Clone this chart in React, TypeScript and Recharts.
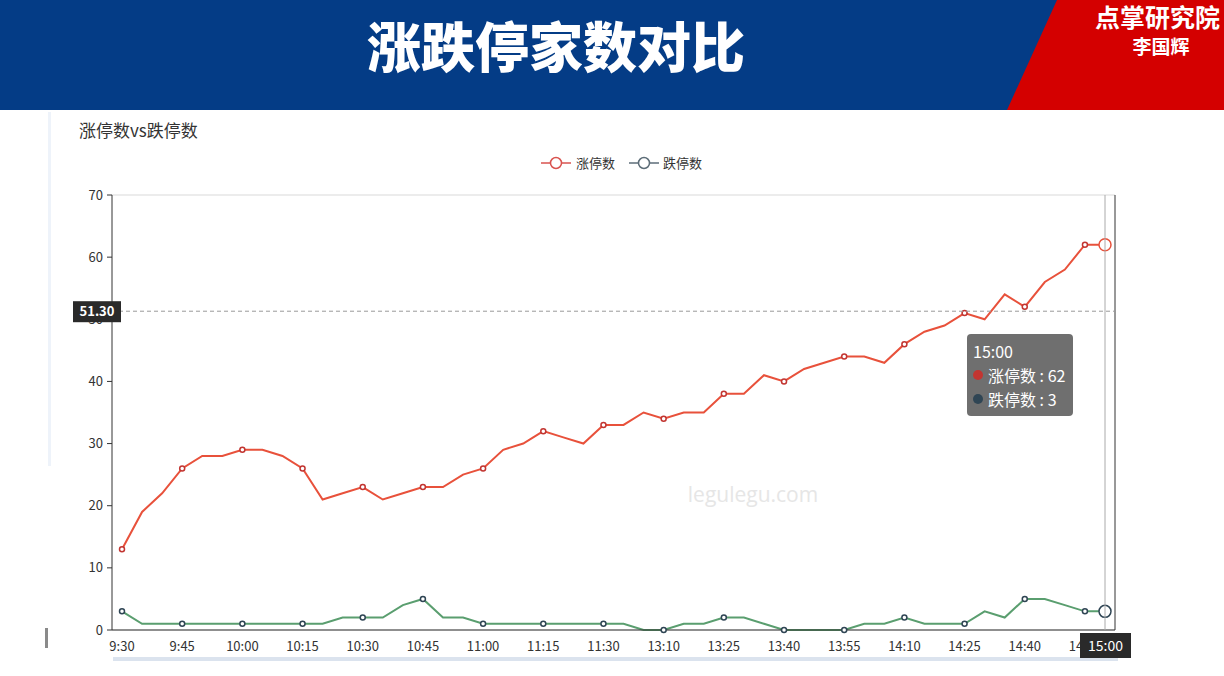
import React from 'react';
import {
  LineChart, Line, XAxis, YAxis, CartesianGrid, Tooltip, ReferenceLine,
} from 'recharts';

const times = [
  '9:30', '9:35', '9:40', '9:45', '9:50', '9:55', '10:00', '10:05', '10:10', '10:15',
  '10:20', '10:25', '10:30', '10:35', '10:40', '10:45', '10:50', '10:55', '11:00', '11:05',
  '11:10', '11:15', '11:20', '11:25', '11:30', '13:00', '13:05', '13:10', '13:15', '13:20',
  '13:25', '13:30', '13:35', '13:40', '13:45', '13:50', '13:55', '14:00', '14:05', '14:10',
  '14:15', '14:20', '14:25', '14:30', '14:35', '14:40', '14:45', '14:50', '14:55', '15:00',
];
const limitUp = [
  13, 19, 22, 26, 28, 28, 29, 29, 28, 26,
  21, 22, 23, 21, 22, 23, 23, 25, 26, 29,
  30, 32, 31, 30, 33, 33, 35, 34, 35, 35,
  38, 38, 41, 40, 42, 43, 44, 44, 43, 46,
  48, 49, 51, 50, 54, 52, 56, 58, 62, 62,
];
const limitDown = [
  3, 1, 1, 1, 1, 1, 1, 1, 1, 1,
  1, 2, 2, 2, 4, 5, 2, 2, 1, 1,
  1, 1, 1, 1, 1, 1, 0, 0, 1, 1,
  2, 2, 1, 0, 0, 0, 0, 1, 1, 2,
  1, 1, 1, 3, 2, 5, 5, 4, 3, 3,
];
const yTicks = [0, 10, 20, 30, 40, 50, 60, 70];
const seriesNames = ['涨停数', '跌停数'];
const markLineValue = 51.3;
const hoverIndex = 49;

const data = times.map((t, i) => ({ time: t, up: limitUp[i], down: limitDown[i] }));

const FONT = '"Noto Sans CJK SC", "Noto Sans", sans-serif';
const RED_LINE = '#e8513b';
const RED_MARK = '#c23531';
const GREEN_LINE = '#5a9e6f';
const DARK_MARK = '#2f4554';

const makeDot = (stroke: string) => (props: any) => {
  const { cx, cy, index } = props;
  if (index % 3 !== 0 || cx == null || cy == null) return <g key={`d-${index}`} />;
  return (
    <circle key={`d-${index}`} cx={cx} cy={cy} r={2.5} fill="#fff" stroke={stroke} strokeWidth={1.5} />
  );
};

const TooltipBox = (props: any) => {
  const { active, payload, label } = props;
  if (!active || !payload || !payload.length) return null;
  const colors = [RED_MARK, DARK_MARK];
  return (
    <div
      style={{
        background: 'rgba(50,50,50,0.7)',
        borderRadius: 4,
        padding: '5px 6px 5px 6px',
        width: 94,
        color: '#fff',
        fontFamily: FONT,
        fontSize: 16,
        lineHeight: '24px',
        whiteSpace: 'nowrap',
      }}
    >
      <div>{label}</div>
      {payload.map((p: any, i: number) => (
        <div key={p.dataKey} style={{ display: 'flex', alignItems: 'center' }}>
          <span
            style={{
              display: 'inline-block', width: 10, height: 10, borderRadius: 5,
              background: colors[i], marginRight: 5,
            }}
          />
          <span>{p.name} : {p.value}</span>
        </div>
      ))}
    </div>
  );
};

const YMarkLabel = (props: any) => {
  const { viewBox } = props;
  const x = viewBox.x;
  const y = viewBox.y;
  return (
    <g>
      <rect x={x - 39} y={y - 10} width={48} height={21} fill="#2a2a2a" />
      <text x={x - 15} y={y + 5} textAnchor="middle" fill="#fff" fontSize={13} fontWeight={700} fontFamily={FONT}>
        {markLineValue.toFixed(2)}
      </text>
    </g>
  );
};

const XMarkLabel = (props: any) => {
  const { viewBox } = props;
  const x = viewBox.x;
  const y = viewBox.y + viewBox.height;
  return (
    <g>
      <rect x={x - 25} y={y + 3} width={51} height={25} fill="#2a2a2a" />
      <text x={x + 0.5} y={y + 21} textAnchor="middle" fill="#fff" fontSize={14} fontFamily={FONT}>
        {times[hoverIndex]}
      </text>
    </g>
  );
};

export default function App() {
  return (
    <div style={{ position: 'absolute', left: 0, top: 0, width: 1224, height: 676, background: '#fff', overflow: 'hidden', fontFamily: FONT }}>
      {/* header */}
      <div style={{ position: 'absolute', left: 0, top: 0, width: 1224, height: 110, background: '#043c86' }} />
      <svg style={{ position: 'absolute', left: 0, top: 0 }} width={1224} height={110}>
        <polygon points="1057,0 1224,0 1224,110 1007,110" fill="#d40000" />
      </svg>
      <div
        style={{
          position: 'absolute', left: 556, top: 18, transform: 'translateX(-50%)',
          color: '#fff', fontSize: 54, fontWeight: 900, lineHeight: '54px', whiteSpace: 'nowrap',
        }}
      >
        涨跌停家数对比
      </div>
      <div
        style={{
          position: 'absolute', left: 1095, top: 4, color: '#fff', fontSize: 25, fontWeight: 700,
          lineHeight: '25px', whiteSpace: 'nowrap',
        }}
      >
        点掌研究院
      </div>
      <div
        style={{
          position: 'absolute', left: 1161, top: 36, transform: 'translateX(-50%)', color: '#fff',
          fontSize: 19, fontWeight: 700, lineHeight: '19px', whiteSpace: 'nowrap',
        }}
      >
        李国辉
      </div>

      {/* panel decorations */}
      <div style={{ position: 'absolute', left: 48, top: 112, width: 3, height: 354, background: '#eef3fa' }} />
      <div style={{ position: 'absolute', left: 45, top: 628, width: 3, height: 20, background: '#8a8a8a' }} />
      <div style={{ position: 'absolute', left: 113, top: 657, width: 1005, height: 4, background: '#dbe3ee' }} />

      {/* subtitle */}
      <div style={{ position: 'absolute', left: 79, top: 118, fontSize: 17, color: '#333', lineHeight: '24px', whiteSpace: 'nowrap' }}>
        涨停数vs跌停数
      </div>

      {/* legend */}
      <svg style={{ position: 'absolute', left: 0, top: 150 }} width={1224} height={28}>
        <g>
          <line x1={541} y1={13} x2={571} y2={13} stroke="#d9534f" strokeWidth={1.5} />
          <circle cx={556} cy={13} r={5.5} fill="#fff" stroke="#d9534f" strokeWidth={1.5} />
          <text x={576} y={18} fontSize={13} fill="#333" fontFamily={FONT}>{seriesNames[0]}</text>
          <line x1={629} y1={13} x2={659} y2={13} stroke="#5d6d78" strokeWidth={1.5} />
          <circle cx={644} cy={13} r={5.5} fill="#fff" stroke="#5d6d78" strokeWidth={1.5} />
          <text x={663} y={18} fontSize={13} fill="#333" fontFamily={FONT}>{seriesNames[1]}</text>
        </g>
      </svg>

      {/* watermark */}
      <div style={{ position: 'absolute', left: 753, top: 480, transform: 'translateX(-50%)', fontSize: 21, color: '#e6e6e6', fontFamily: '"Open Sans", sans-serif', whiteSpace: 'nowrap' }}>
        legulegu.com
      </div>

      <div style={{ position: 'absolute', left: 0, top: 0 }}>
        <LineChart width={1224} height={676} data={data} margin={{ top: 195, right: 108, bottom: 16, left: 62 }}>
          <CartesianGrid vertical={false} stroke="#d9d9d9" strokeWidth={1} />
          <XAxis
            dataKey="time"
            interval={2}
            padding={{ left: 10, right: 10 }}
            height={30}
            tickLine={false}
            tickMargin={6}
            axisLine={{ stroke: '#333', strokeWidth: 1 }}
            tick={{ fill: '#333', fontSize: 13, fontFamily: FONT }}
          />
          <YAxis
            yAxisId="left"
            domain={[0, 70]}
            ticks={yTicks}
            width={50}
            tickSize={5}
            tickMargin={4}
            axisLine={{ stroke: '#333', strokeWidth: 1 }}
            tickLine={{ stroke: '#333' }}
            tick={{ fill: '#333', fontSize: 13, fontFamily: FONT }}
          />
          <YAxis
            yAxisId="right"
            orientation="right"
            domain={[0, 70]}
            width={1}
            tick={false}
            tickLine={false}
            axisLine={{ stroke: '#333', strokeWidth: 1 }}
          />
          <Tooltip
            defaultIndex={hoverIndex}
            active={true}
            position={{ x: 967, y: 334 }}
            cursor={false}
            content={<TooltipBox />}
            isAnimationActive={false}
            wrapperStyle={{ outline: 'none' }}
          />
          <Line
            yAxisId="left"
            type="linear"
            dataKey="up"
            name={seriesNames[0]}
            stroke={RED_LINE}
            strokeWidth={2}
            dot={makeDot(RED_MARK)}
            activeDot={{ r: 6, fill: '#fff', stroke: RED_LINE, strokeWidth: 1.5 }}
            isAnimationActive={false}
          />
          <Line
            yAxisId="left"
            type="linear"
            dataKey="down"
            name={seriesNames[1]}
            stroke={GREEN_LINE}
            strokeWidth={2}
            dot={makeDot(DARK_MARK)}
            activeDot={{ r: 6, fill: '#fff', stroke: DARK_MARK, strokeWidth: 1.5 }}
            isAnimationActive={false}
          />
          <ReferenceLine
            yAxisId="left"
            y={markLineValue}
            stroke="#999"
            strokeDasharray="4 3"
            label={<YMarkLabel />}
            zIndex={2000}
          />
          <ReferenceLine
            yAxisId="left"
            x={times[hoverIndex]}
            stroke="#aaa"
            strokeWidth={1}
            label={<XMarkLabel />}
            zIndex={2000}
          />
        </LineChart>
      </div>
    </div>
  );
}
